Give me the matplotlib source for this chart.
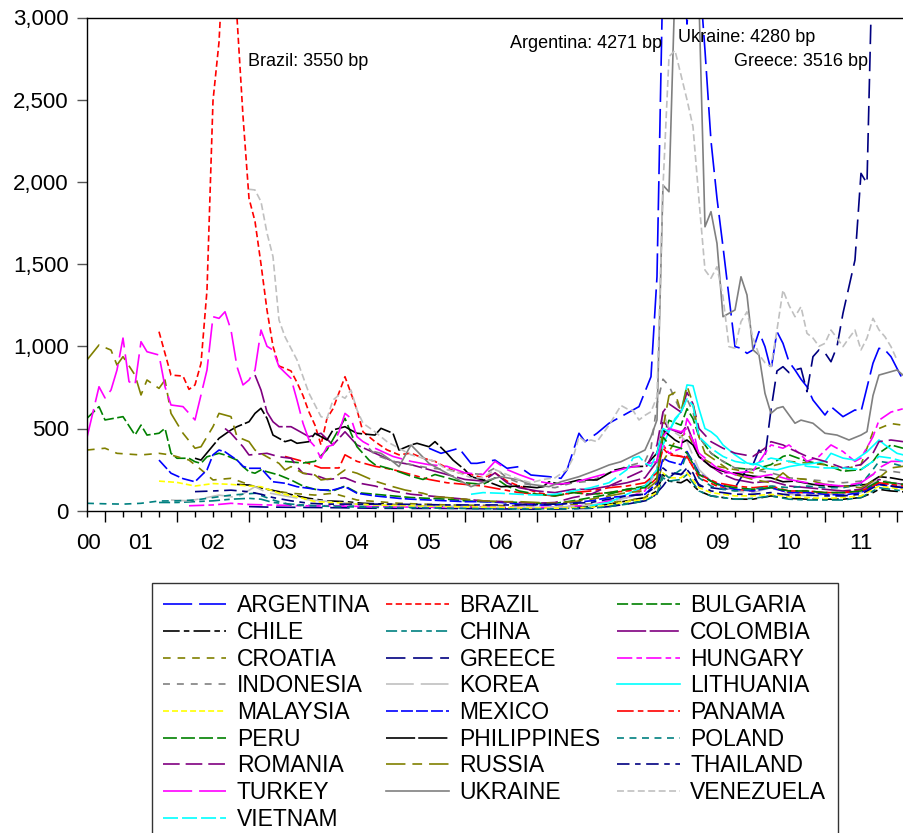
import matplotlib
matplotlib.use("Agg")
import matplotlib.pyplot as plt
from matplotlib.ticker import FuncFormatter

plt.rcParams["font.family"] = ["Liberation Sans", "DejaVu Sans"]
plt.rcParams["lines.scale_dashes"] = False

# x values are month numbers, 0 = Oct 2000
argentina_m = [57, 59, 62, 64, 65, 68, 70, 72, 74, 77, 79, 80, 82, 83, 85, 87, 89, 92, 94, 95,
               96, 97, 98, 99, 100, 101, 102, 103, 104, 105, 106, 107, 108, 109, 110, 111, 112, 113, 114, 115,
               116, 117, 118, 119, 120, 121, 123, 124, 126, 128, 129, 131, 132, 133, 134, 136]
argentina_v = [380, 349, 380, 288, 288, 308, 258, 268, 217, 207, 197, 248, 471, 420, 471, 532, 572, 633, 815, 1423,
               3300, 4271, 3900, 3600, 2960, 3400, 3300, 2800, 2250, 1900, 1606, 1300, 998, 988, 957, 978, 1089, 998, 856, 1089,
               1018, 906, 856, 800, 754, 673, 582, 633, 572, 613, 602, 897, 988, 978, 937, 795]

brazil_m = [12, 14, 16, 17, 18, 19, 20, 21, 22, 23, 24, 25, 26, 27, 28, 29, 30, 31, 32, 33,
            34, 35, 36, 37, 38, 39, 40, 41, 43, 44, 45, 46, 48, 50, 52, 54, 56, 58, 60, 62,
            64, 66, 68, 70, 72, 75, 78, 81, 84, 87, 90, 93, 95, 96, 97, 99, 100, 102, 105, 108,
            111, 114, 117, 120, 123, 126, 129, 131, 132, 134, 136]
brazil_v = [1089, 825, 819, 738, 765, 896, 1342, 2494, 2850, 3550, 3350, 3000, 2400, 1900, 1760, 1500, 1220, 1000, 880, 866,
            850, 780, 700, 600, 520, 400, 562, 620, 815, 714, 613, 480, 420, 370, 340, 350, 320, 300, 260, 230,
            220, 200, 230, 180, 150, 110, 90, 110, 100, 110, 120, 130, 200, 400, 350, 330, 330, 200, 150, 130,
            120, 140, 110, 110, 110, 110, 130, 150, 170, 160, 160]

bulgaria_m = [0, 2, 3, 6, 8, 9, 10, 12, 13, 14, 15, 17, 18, 19, 20, 22, 23, 25, 26, 27,
              28, 29, 30, 32, 34, 36, 38, 41, 43, 45, 48, 51, 54, 57, 60, 63, 66, 69, 72, 75,
              78, 81, 84, 87, 90, 93, 95, 96, 97, 99, 100, 101, 102, 104, 106, 108, 111, 114, 116, 117,
              120, 123, 126, 129, 131, 132, 134, 136]
bulgaria_v = [562, 633, 552, 572, 460, 521, 460, 471, 501, 349, 319, 319, 298, 288, 328, 349, 339, 308, 268, 237,
              228, 248, 237, 217, 187, 150, 130, 120, 150, 110, 100, 90, 80, 75, 70, 60, 55, 55, 50, 45,
              45, 60, 80, 100, 130, 150, 250, 450, 550, 520, 620, 560, 450, 350, 300, 260, 250, 280, 330, 340,
              300, 280, 240, 250, 300, 350, 400, 380]

chile_m = [25, 27, 30, 32, 35, 37, 40, 43, 46, 50, 54, 60, 66, 72, 78, 84, 87, 90, 93, 95,
           96, 97, 99, 100, 102, 104, 106, 108, 111, 114, 117, 120, 123, 126, 129, 131, 132, 134, 136]
chile_v = [160, 156, 130, 116, 90, 75, 60, 55, 45, 40, 30, 25, 20, 18, 18, 25, 40, 60, 80, 120,
           220, 180, 170, 190, 120, 90, 80, 70, 70, 90, 75, 70, 70, 70, 80, 110, 130, 120, 115]

china_m = [12, 15, 18, 21, 24, 27, 29, 31, 34, 38, 42, 48, 54, 60, 66, 72, 78, 84, 87, 90,
           93, 95, 96, 97, 99, 100, 102, 104, 106, 108, 111, 114, 117, 120, 123, 126, 129, 131, 132, 134, 136]
china_v = [50, 50, 55, 60, 70, 75, 70, 50, 40, 30, 30, 25, 22, 18, 15, 12, 12, 20, 30, 45,
           60, 100, 200, 180, 190, 220, 120, 90, 80, 70, 75, 90, 70, 65, 65, 65, 80, 120, 140, 130, 120]

colombia_m = [28, 29, 30, 31, 32, 34, 35, 37, 39, 41, 43, 45, 48, 51, 54, 57, 60, 63, 66, 68,
              70, 72, 75, 78, 81, 84, 87, 90, 93, 95, 96, 97, 99, 100, 102, 104, 106, 108, 111, 114,
              117, 120, 123, 126, 129, 131, 132, 134, 136]
colombia_v = [825, 734, 600, 541, 511, 511, 491, 450, 471, 400, 480, 400, 350, 300, 280, 250, 220, 190, 180, 230,
              170, 140, 120, 110, 130, 130, 150, 170, 200, 300, 550, 500, 470, 520, 330, 270, 220, 190, 170, 180,
              150, 140, 130, 120, 130, 170, 190, 170, 160]

croatia_m = [0, 3, 5, 9, 12, 14, 17, 19, 21, 24, 28, 32, 34, 38, 41, 45, 52, 60, 72, 84,
             90, 93, 95, 96, 98, 100, 102, 105, 108, 111, 114, 117, 120, 123, 126, 129, 131, 132, 134, 136]
croatia_v = [369, 380, 349, 339, 349, 339, 308, 250, 187, 197, 146, 116, 106, 95, 106, 65, 45, 35, 30, 40,
             60, 80, 150, 300, 420, 480, 330, 270, 250, 230, 270, 300, 290, 280, 250, 280, 480, 500, 530, 520]

greece_m = [27, 30, 36, 42, 48, 54, 60, 66, 72, 78, 84, 87, 90, 93, 94, 95, 96, 97, 98, 99,
            100, 101, 102, 104, 106, 108, 109, 110, 111, 112, 113, 114, 115, 116, 117, 118, 119, 120, 121, 122,
            123, 124, 125, 126, 127, 128, 129, 130, 131]
greece_v = [25, 22, 20, 18, 15, 14, 14, 12, 10, 10, 15, 25, 40, 60, 70, 110, 150, 200, 230, 220,
            260, 230, 150, 140, 130, 140, 200, 250, 280, 369, 328, 613, 850, 876, 840, 856, 866, 724, 937, 978,
            960, 906, 998, 1201, 1363, 1525, 2052, 1991, 3516]

hungary_m = [17, 21, 24, 27, 30, 36, 42, 48, 54, 60, 66, 72, 78, 84, 87, 90, 93, 95, 96, 97,
             99, 100, 101, 102, 104, 106, 108, 111, 113, 114, 116, 117, 119, 120, 122, 124, 126, 128, 129, 131,
             132, 134, 136]
hungary_v = [30, 35, 45, 38, 35, 30, 28, 25, 22, 20, 25, 20, 20, 35, 60, 80, 120, 250, 400, 350,
             380, 560, 500, 330, 270, 230, 230, 240, 350, 400, 380, 400, 340, 300, 330, 400, 360, 300, 320, 450,
             550, 600, 620]

indonesia_m = [47, 48, 51, 54, 57, 60, 63, 66, 68, 70, 72, 75, 78, 81, 84, 87, 90, 93, 94, 95,
               96, 97, 98, 99, 100, 101, 102, 104, 106, 108, 111, 114, 117, 120, 123, 126, 129, 131, 132, 134, 136]
indonesia_v = [380, 340, 300, 280, 260, 250, 230, 220, 260, 200, 170, 150, 140, 170, 180, 230, 270, 300, 380, 650,
               800, 760, 680, 600, 680, 600, 450, 350, 300, 260, 250, 230, 200, 190, 180, 170, 180, 220, 250, 240, 230]

korea_m = [14, 17, 20, 22, 25, 28, 30, 33, 36, 39, 42, 45, 48, 54, 60, 66, 72, 78, 84, 87,
           90, 93, 95, 96, 97, 99, 100, 102, 104, 106, 108, 111, 114, 117, 120, 123, 126, 129, 131, 132, 134, 136]
korea_v = [65, 60, 80, 95, 80, 146, 110, 90, 70, 60, 50, 40, 35, 30, 25, 20, 20, 20, 35, 50,
           80, 110, 250, 600, 500, 450, 420, 250, 180, 150, 120, 110, 140, 100, 90, 100, 100, 110, 170, 190, 170, 150]

lithuania_m = [84, 87, 90, 93, 95, 96, 97, 98, 99, 100, 101, 102, 103, 104, 105, 106, 107, 108, 110, 112,
               113, 115, 117, 119, 121, 123, 124, 126, 128, 130, 132, 133, 135, 136]
lithuania_v = [30, 50, 100, 150, 250, 400, 480, 560, 600, 765, 760, 620, 500, 480, 450, 400, 370, 340, 290, 278,
               258, 248, 268, 280, 288, 300, 349, 320, 308, 358, 430, 400, 349, 340]

malaysia_m = [12, 15, 18, 21, 24, 27, 29, 32, 35, 38, 41, 45, 48, 54, 60, 66, 72, 78, 84, 87,
              90, 93, 95, 96, 97, 99, 100, 102, 104, 106, 108, 111, 114, 117, 120, 123, 126, 129, 131, 132, 134, 136]
malaysia_v = [180, 172, 150, 165, 160, 150, 146, 106, 85, 55, 50, 40, 35, 30, 25, 22, 18, 15, 20, 35,
              55, 70, 110, 230, 200, 200, 230, 140, 110, 100, 90, 90, 100, 85, 80, 75, 80, 90, 130, 150, 140, 130]

mexico_m = [12, 14, 16, 18, 20, 21, 22, 23, 25, 26, 27, 29, 31, 33, 35, 39, 41, 43, 45, 48,
            52, 54, 57, 60, 63, 66, 69, 72, 75, 78, 81, 84, 87, 90, 93, 95, 96, 97, 99, 100,
            102, 104, 106, 108, 111, 114, 117, 120, 123, 126, 129, 131, 132, 134, 136]
mexico_v = [308, 228, 195, 176, 248, 340, 369, 358, 308, 270, 258, 258, 176, 167, 146, 126, 126, 146, 106, 90,
            75, 70, 65, 60, 55, 55, 50, 40, 35, 35, 50, 60, 80, 90, 100, 170, 320, 300, 280, 360,
            230, 180, 150, 130, 120, 140, 110, 110, 100, 95, 110, 150, 160, 150, 140]

panama_m = [33, 36, 39, 42, 43, 45, 48, 51, 54, 57, 60, 63, 66, 69, 72, 75, 78, 81, 84, 87,
            90, 93, 95, 96, 97, 99, 100, 102, 105, 108, 111, 114, 117, 120, 123, 126, 129, 131, 132, 134, 136]
panama_v = [330, 300, 260, 260, 340, 300, 270, 250, 220, 190, 170, 160, 150, 130, 110, 100, 90, 110, 120, 140,
            150, 170, 230, 380, 340, 330, 320, 220, 170, 150, 140, 150, 120, 120, 110, 110, 120, 150, 170, 160, 150]

peru_m = [33, 36, 38, 40, 43, 44, 45, 47, 48, 51, 54, 56, 58, 60, 63, 66, 68, 70, 72, 75,
          78, 81, 84, 87, 90, 93, 95, 96, 97, 99, 100, 102, 105, 108, 111, 114, 117, 120, 123, 126,
          129, 131, 132, 134, 136]
peru_v = [300, 290, 300, 370, 562, 471, 389, 308, 280, 250, 210, 190, 220, 200, 170, 160, 200, 150, 120, 100,
          90, 110, 100, 110, 130, 140, 200, 450, 400, 380, 350, 220, 160, 140, 130, 140, 120, 120, 110, 110,
          120, 160, 180, 170, 160]

philippines_m = [18, 19, 22, 24, 25, 27, 28, 29, 30, 31, 33, 34, 35, 37, 38, 40, 41, 43, 44, 45,
                 48, 49, 51, 52, 54, 55, 57, 58, 60, 61, 63, 64, 66, 69, 72, 75, 76, 77, 79, 82,
                 85, 88, 91, 93, 95, 96, 97, 98, 99, 100, 101, 102, 104, 106, 108, 111, 114, 116, 118, 121,
                 124, 127, 130, 132, 134, 136]
philippines_v = [319, 308, 440, 491, 511, 541, 592, 623, 562, 460, 420, 430, 410, 420, 471, 430, 491, 511, 490, 471,
                 460, 501, 471, 369, 400, 410, 389, 420, 349, 308, 248, 207, 187, 146, 150, 140, 146, 176, 160, 187,
                 187, 248, 268, 270, 350, 491, 460, 430, 410, 430, 400, 328, 268, 240, 228, 210, 200, 176, 180, 160,
                 146, 150, 160, 207, 200, 187]

poland_m = [0, 3, 6, 9, 12, 15, 18, 20, 22, 24, 28, 31, 34, 37, 42, 48, 54, 60, 66, 72,
            78, 84, 87, 90, 93, 95, 96, 97, 99, 100, 101, 102, 104, 106, 108, 111, 114, 117, 120, 123,
            126, 129, 131, 132, 134, 136]
poland_v = [45, 42, 40, 45, 59, 60, 65, 75, 85, 95, 106, 65, 35, 30, 25, 20, 18, 15, 12, 10,
            10, 15, 25, 40, 60, 100, 230, 200, 250, 350, 300, 200, 150, 130, 120, 130, 150, 140, 150, 140,
            140, 160, 250, 300, 290, 270]

romania_m = [23, 24, 26, 27, 30, 32, 34, 35, 36, 38, 40, 43, 45, 48, 51, 54, 57, 60, 63, 66,
             69, 72, 75, 78, 81, 84, 87, 90, 93, 95, 96, 97, 99, 100, 101, 102, 104, 106, 108, 111,
             113, 114, 116, 117, 120, 123, 126, 129, 131, 132, 134, 136]
romania_v = [500, 471, 389, 339, 349, 328, 319, 268, 228, 217, 190, 200, 170, 150, 120, 100, 90, 80, 70, 60,
             55, 50, 45, 50, 80, 100, 150, 200, 250, 400, 600, 650, 600, 720, 650, 500, 420, 380, 350, 330,
             380, 420, 400, 380, 330, 300, 260, 280, 350, 420, 430, 420]

russia_m = [0, 2, 4, 5, 6, 8, 9, 10, 12, 13, 14, 16, 18, 19, 21, 22, 24, 25, 27, 28,
            30, 32, 33, 34, 36, 38, 39, 41, 43, 45, 48, 51, 53, 56, 58, 60, 63, 66, 69, 72,
            75, 78, 81, 84, 87, 90, 93, 95, 96, 97, 98, 99, 100, 101, 102, 103, 105, 108, 111, 114,
            116, 117, 120, 123, 126, 129, 132, 134, 136]
russia_v = [917, 1008, 977, 886, 937, 825, 704, 795, 744, 795, 592, 471, 380, 389, 511, 592, 572, 450, 420, 369,
            328, 288, 248, 268, 228, 217, 187, 197, 248, 228, 180, 146, 126, 106, 85, 80, 70, 60, 55, 55,
            50, 45, 55, 70, 90, 110, 120, 180, 500, 700, 720, 600, 760, 650, 450, 350, 300, 220, 190, 170,
            230, 200, 190, 160, 150, 140, 200, 260, 270]

thailand_m = [18, 21, 24, 27, 29, 31, 34, 37, 40, 45, 50, 55, 60, 66, 72, 78, 84, 87, 90, 93,
              95, 96, 97, 99, 100, 102, 104, 106, 108, 111, 114, 117, 120, 123, 126, 129, 131, 132, 134, 136]
thailand_v = [116, 120, 125, 115, 100, 80, 60, 45, 40, 40, 40, 38, 35, 35, 35, 40, 50, 70, 90, 100,
              150, 260, 230, 220, 250, 160, 120, 110, 100, 100, 110, 95, 95, 90, 90, 100, 140, 160, 150, 140]

turkey_m = [0, 2, 3, 4, 5, 6, 7, 8, 9, 10, 12, 13, 14, 16, 18, 20, 21, 22, 23, 24,
            25, 26, 27, 28, 29, 30, 31, 32, 33, 34, 35, 36, 37, 38, 39, 40, 41, 42, 43, 44,
            45, 46, 48, 51, 54, 57, 60, 63, 66, 68, 70, 72, 75, 78, 81, 84, 87, 90, 93, 95,
            96, 97, 99, 100, 102, 105, 108, 111, 114, 117, 120, 123, 126, 129, 131, 132, 134, 136]
turkey_v = [446, 754, 686, 734, 856, 1050, 785, 765, 1028, 967, 947, 754, 643, 633, 552, 856, 1180, 1170, 1210, 1099,
            876, 765, 795, 856, 1099, 1000, 977, 876, 840, 805, 673, 532, 430, 389, 319, 389, 400, 480, 592, 562,
            450, 420, 380, 330, 300, 280, 270, 230, 220, 300, 250, 220, 180, 160, 170, 200, 230, 260, 280, 300,
            450, 500, 480, 500, 350, 260, 220, 200, 220, 190, 170, 160, 150, 170, 220, 260, 300, 300]

ukraine_m = [48, 49, 51, 52, 54, 57, 59, 61, 64, 67, 69, 72, 74, 77, 79, 82, 85, 87, 89, 93,
             94, 95, 96, 97, 98, 99, 100, 101, 102, 103, 104, 105, 106, 108, 109, 110, 111, 112, 113, 114,
             115, 116, 118, 119, 121, 123, 125, 127, 129, 130, 131, 132, 135, 136]
ukraine_v = [358, 349, 298, 268, 400, 288, 248, 207, 146, 187, 207, 187, 160, 146, 176, 207, 248, 278, 298, 369,
             450, 552, 1980, 1940, 3200, 3800, 4280, 3700, 3100, 1727, 1819, 1626, 1180, 1221, 1423, 1312, 978, 947, 714, 592,
             623, 633, 532, 551, 532, 471, 460, 430, 460, 481, 700, 825, 856, 825]

venezuela_m = [27, 28, 29, 30, 31, 32, 33, 35, 37, 39, 40, 41, 42, 43, 44, 45, 46, 48, 50, 52,
               54, 56, 58, 60, 62, 64, 66, 68, 70, 72, 74, 76, 78, 80, 81, 82, 83, 84, 85, 86,
               87, 88, 89, 90, 91, 92, 93, 94, 95, 96, 97, 98, 99, 100, 101, 102, 103, 104, 105, 106,
               107, 108, 109, 110, 111, 112, 113, 114, 115, 116, 117, 118, 119, 120, 121, 122, 123, 124, 125, 126,
               127, 128, 129, 130, 131, 132, 133, 134, 135]
venezuela_v = [1955, 1951, 1880, 1689, 1545, 1160, 1058, 917, 714, 572, 562, 673, 704, 684, 734, 613, 532, 480, 420, 380,
               340, 320, 300, 250, 230, 200, 200, 250, 220, 190, 170, 190, 200, 250, 320, 450, 420, 430, 420, 470,
               520, 580, 640, 620, 610, 552, 580, 602, 693, 1970, 2762, 2800, 2650, 2500, 2336, 1890, 1464, 1414, 1484, 1300,
               998, 988, 1150, 1210, 1050, 950, 900, 876, 1100, 1342, 1250, 1180, 1241, 1079, 1050, 1000, 1018, 1099, 1050, 998,
               1050, 1099, 978, 1050, 1170, 1100, 1058, 998, 917]

vietnam_m = [64, 66, 69, 72, 75, 78, 81, 84, 87, 90, 91, 92, 93, 94, 95, 96, 97, 98, 99, 100,
             101, 102, 104, 106, 108, 111, 114, 117, 120, 123, 126, 129, 131, 132, 134, 136]
vietnam_v = [100, 110, 106, 100, 95, 100, 120, 140, 170, 250, 320, 330, 290, 270, 350, 500, 480, 550, 600, 680,
             640, 450, 380, 330, 300, 280, 320, 300, 270, 260, 260, 250, 300, 330, 320, 300]

year_labels = ["00", "01", "02", "03", "04", "05", "06", "07", "08", "09", "10", "11"]
year_label_m = [0.25, 9, 21, 33, 45, 57, 69, 81, 93, 105, 117, 129]

series = [
    ("ARGENTINA", argentina_m, argentina_v, "#0000ff", (0, (21, 5))),
    ("BRAZIL", brazil_m, brazil_v, "#ff0000", (0, (4.5, 2.5))),
    ("BULGARIA", bulgaria_m, bulgaria_v, "#008000", (0, (8, 2.5))),
    ("CHILE", chile_m, chile_v, "#000000", (0, (12, 3, 4, 3))),
    ("CHINA", china_m, china_v, "#008080", (0, (8, 3, 4, 3))),
    ("COLOMBIA", colombia_m, colombia_v, "#800080", (0, (21, 2.5))),
    ("CROATIA", croatia_m, croatia_v, "#808000", (0, (5.5, 5))),
    ("GREECE", greece_m, greece_v, "#000080", (0, (14, 5.5))),
    ("HUNGARY", hungary_m, hungary_v, "#ff00ff", (0, (11, 3, 4, 3))),
    ("INDONESIA", indonesia_m, indonesia_v, "#808080", (0, (5, 5))),
    ("KOREA", korea_m, korea_v, "#c0c0c0", (0, (20, 5))),
    ("LITHUANIA", lithuania_m, lithuania_v, "#00ffff", "-"),
    ("MALAYSIA", malaysia_m, malaysia_v, "#ffff00", (0, (4.3, 2.2))),
    ("MEXICO", mexico_m, mexico_v, "#0000ff", (0, (8.6, 2.2))),
    ("PANAMA", panama_m, panama_v, "#ff0000", (0, (12, 3, 4, 3))),
    ("PERU", peru_m, peru_v, "#008000", (0, (10, 3))),
    ("PHILIPPINES", philippines_m, philippines_v, "#000000", (0, (21, 2.2))),
    ("POLAND", poland_m, poland_v, "#008080", (0, (5, 4))),
    ("ROMANIA", romania_m, romania_v, "#800080", (0, (12, 4.3))),
    ("RUSSIA", russia_m, russia_v, "#808000", (0, (14, 5, 7, 5))),
    ("THAILAND", thailand_m, thailand_v, "#000080", (0, (9, 4, 4, 4))),
    ("TURKEY", turkey_m, turkey_v, "#ff00ff", (0, (21, 5))),
    ("UKRAINE", ukraine_m, ukraine_v, "#808080", "-"),
    ("VENEZUELA", venezuela_m, venezuela_v, "#c0c0c0", (0, (5, 2.5))),
    ("VIETNAM", vietnam_m, vietnam_v, "#00ffff", (0, (10.8, 2.9))),
]

fig = plt.figure(figsize=(9.04, 8.33), dpi=100)
ax = fig.add_axes([87 / 904, 1 - 510.7 / 833, (904 - 87) / 904, 493.2 / 833])

handles = []
names = []
for name, m, v, color, ls in series:
    h, = ax.plot(m, v, color=color, lw=1.2, linestyle=ls, label=name)
    handles.append(h)
    names.append(name)

ax.set_xlim(0, 136.17)
ax.set_ylim(0, 3000)
ax.set_yticks(range(0, 3001, 500))
ax.yaxis.set_major_formatter(FuncFormatter(lambda v, p: f"{v:,.0f}"))
ax.tick_params(axis="y", length=7, width=1, color="#555555", labelsize=16, pad=6)

ax.set_xticks(range(3, 137, 12))
ax.set_xticks(range(0, 137, 3), minor=True)
ax.tick_params(axis="x", which="major", length=8, width=1, labelbottom=False)
ax.tick_params(axis="x", which="minor", length=4.3, width=1)
for lab, pos in zip(year_labels, year_label_m):
    ax.text(pos, -0.045, lab, transform=ax.get_xaxis_transform(),
            ha="center", va="top", fontsize=16)

ax.spines["right"].set_visible(False)
for s in ["left", "top", "bottom"]:
    ax.spines[s].set_linewidth(1.0)

ax.text(26.8, 2735, "Brazil: 3550 bp", fontsize=13, ha="left", va="center")
ax.text(95.8, 2839, "Argentina: 4271 bp", fontsize=13, ha="right", va="center")
ax.text(98.5, 2881, "Ukraine: 4280 bp", fontsize=13, ha="left", va="center")
ax.text(130.2, 2735, "Greece: 3516 bp", fontsize=13, ha="right", va="center")

# legend filled row by row, 3 columns
order = [i for c in range(3) for i in range(c, len(handles), 3)]
leg = fig.legend([handles[i] for i in order], [names[i] for i in order],
                 ncol=3, loc="upper left", bbox_to_anchor=(152 / 904, 1 - 583 / 833),
                 fontsize=16.5, frameon=True, fancybox=False, edgecolor="black",
                 handlelength=2.75, handletextpad=0.45, columnspacing=0.7,
                 labelspacing=0.16, borderpad=0.5, borderaxespad=0)
leg.get_frame().set_linewidth(1.0)

fig.savefig("out.png", dpi=100)
